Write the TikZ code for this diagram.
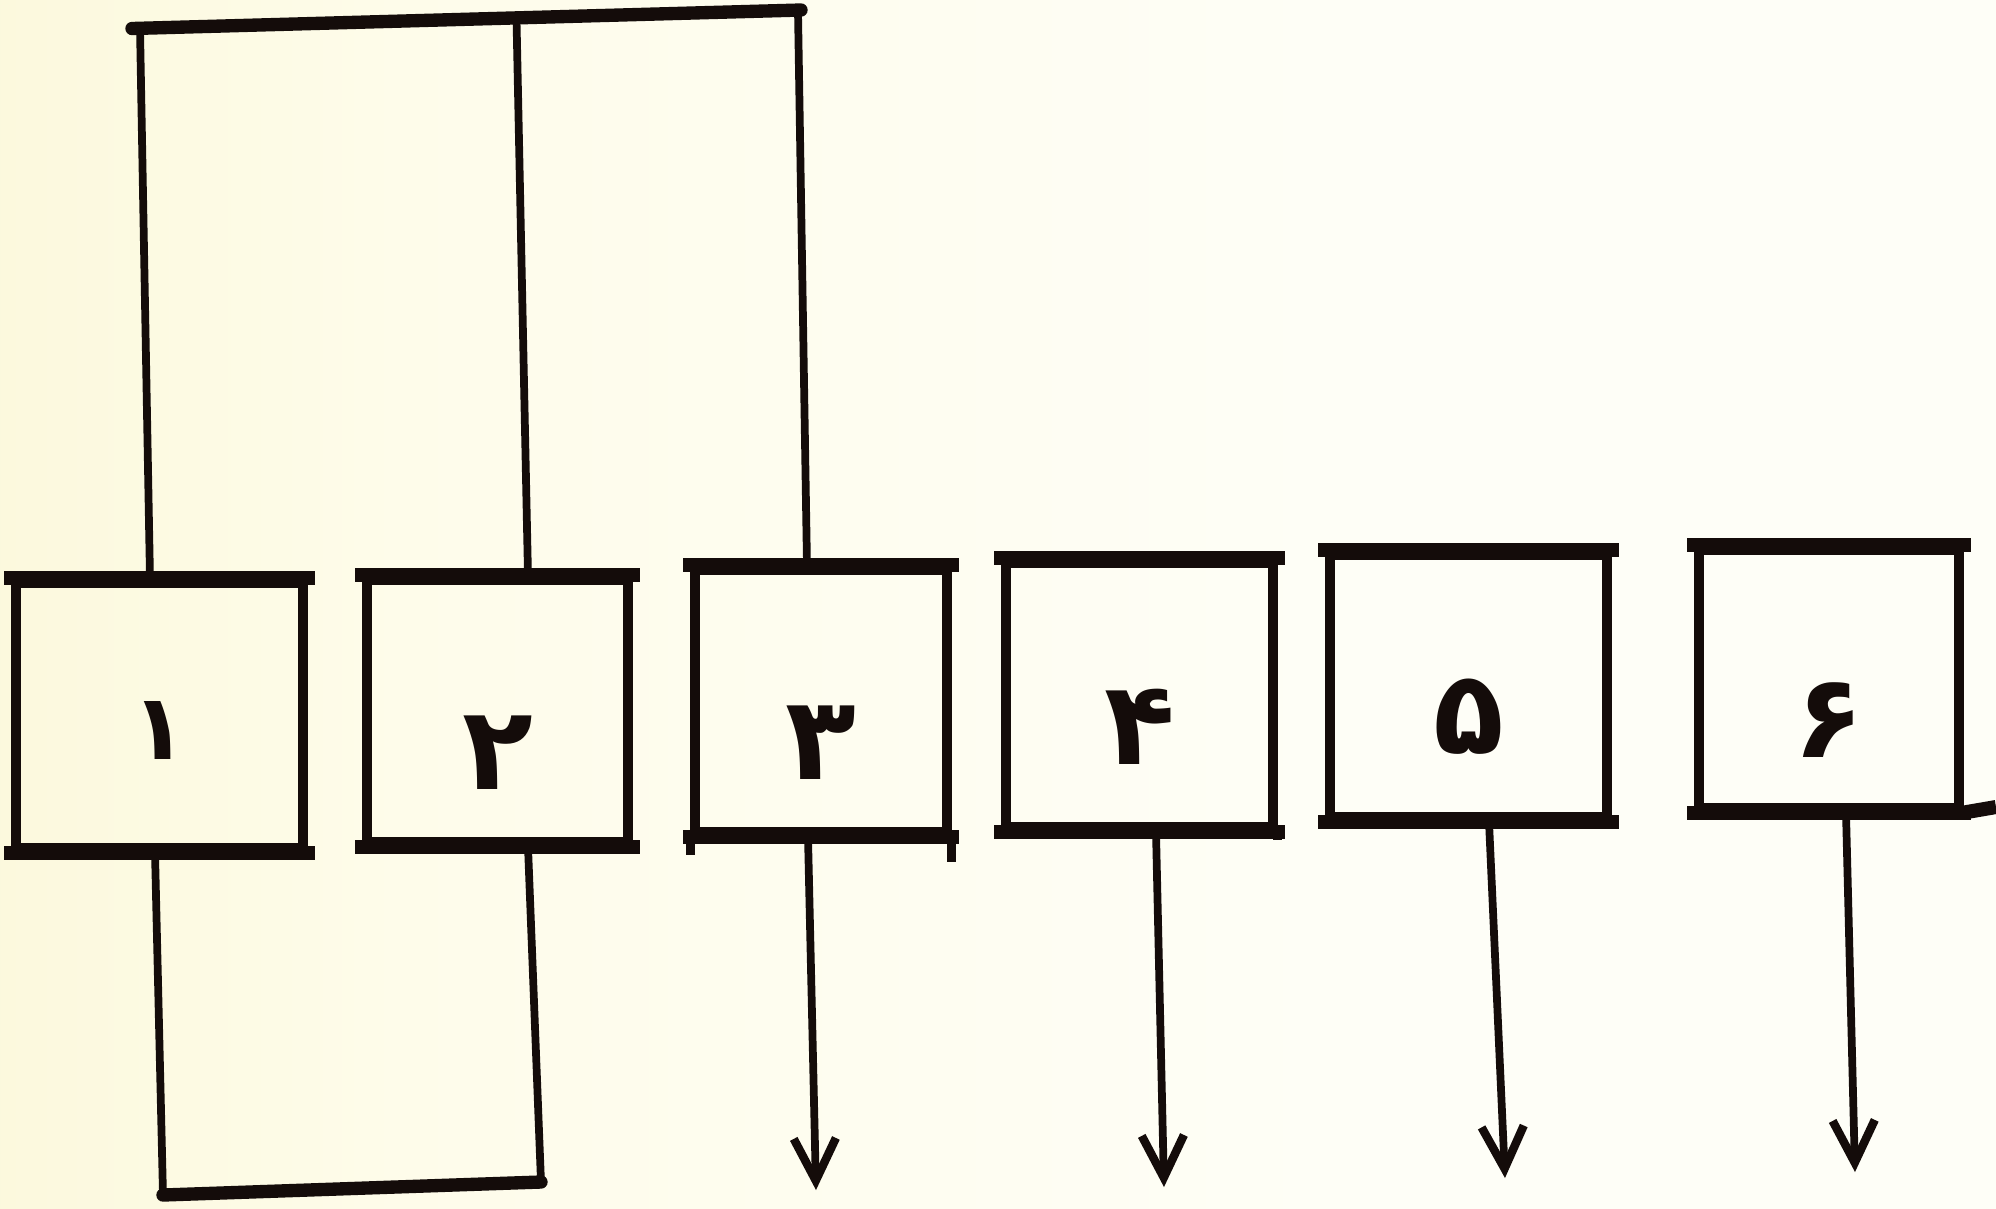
\documentclass[tikz,border=0pt]{standalone}
\usepackage{fontspec}
\newfontfamily\fa[Script=Arabic]{DejaVu Sans}
\usetikzlibrary{calc,arrows.meta}
\definecolor{bgl}{RGB}{249,245,208}
\definecolor{bgm}{RGB}{254,252,234}
\definecolor{bgr}{RGB}{254,254,247}
\definecolor{ink}{RGB}{20,12,10}
\pgfdeclarehorizontalshading{paper}{100bp}{color(0bp)=(bgl); color(15bp)=(bgl); color(35bp)=(bgm); color(60bp)=(bgr); color(100bp)=(bgr)}
\begin{document}
\begin{tikzpicture}[
  box/.style={draw=ink, line width=2.6pt, inner sep=0pt},
  digit/.style={text=ink, inner sep=0pt, font=\fa\bfseries\fontsize{33pt}{33pt}\selectfont},
  edge/.style={draw=ink, line width=4pt, line cap=rect},
  conn/.style={draw=ink, line width=2.2pt},
  bar/.style={draw=ink, line width=3.8pt, line cap=round},
  arr/.style={draw=ink, line width=2.2pt, -{Straight Barb[length=12pt,width=12pt,line width=2.4pt]}}
]
\useasboundingbox (0,0) rectangle (19.96,-12.08);
\shade[shading=paper] (0,0) rectangle (19.96,-12.08);

% boxes with their digits
\node[box, minimum width=2.87cm, minimum height=2.65cm,
  label={[digit, yshift=-0.15cm, font=\fa\bfseries\fontsize{26pt}{26pt}\selectfont]center:۱}] (b1) at (1.595,-7.155) {};
\node[box, minimum width=2.61cm, minimum height=2.62cm,
  label={[digit, yshift=-0.42cm]center:۲}] (b2) at (4.975,-7.11) {};
\node[box, minimum width=2.52cm, minimum height=2.62cm,
  label={[digit, yshift=-0.42cm]center:۳}] (b3) at (8.21,-7.01) {};
\node[box, minimum width=2.67cm, minimum height=2.64cm,
  label={[digit, yshift=-0.32cm]center:۴}] (b4) at (11.395,-6.95) {};
\node[box, minimum width=2.77cm, minimum height=2.62cm,
  label={[digit, yshift=-0.31cm]center:۵}] (b5) at (14.685,-6.86) {};
\node[box, minimum width=2.60cm, minimum height=2.58cm,
  label={[digit, yshift=-0.41cm]center:۶}] (b6) at (18.29,-6.79) {};

% thick top and bottom edges
\foreach \b in {b1,b2,b3,b4,b5,b6}{
  \draw[edge] (\b.north west) -- (\b.north east);
  \draw[edge] (\b.south west) -- (\b.south east);
}
% small overshoots of the hand drawing
\draw[conn, line width=2.6pt] (b3.south west) -- ++(0,-0.18);
\draw[conn, line width=2.6pt] (b3.south east) -- ++(0,-0.25);
\draw[conn, line width=2.6pt] (b4.south east) -- ++(0,-0.08);
\coordinate (rim) at (19.96,-8.07);
\draw[edge, line cap=butt] (b6.south east) -- (rim);

% top bar and its three drops
\coordinate (tl) at (1.32,-0.285);
\coordinate (tr) at (8.01,-0.10);
\draw[bar] (tl) -- (tr);
\coordinate (tA) at (1.40,-0.28);
\coordinate (tB) at (5.165,-0.19);
\coordinate (tC) at (7.98,-0.11);
\draw[conn] (tA) -- ($(b1.north)+(-0.095,0)$);
\draw[conn] (tB) -- ($(b2.north)+(0.305,0)$);
\draw[conn] (tC) -- ($(b3.north)+(-0.14,0)$);

% bottom loop between boxes 1 and 2
\coordinate (u1) at (1.63,-11.95);
\coordinate (u2) at (5.41,-11.82);
\draw[conn] ($(b1.south)+(-0.045,0)$) -- (u1);
\draw[conn] ($(b2.south)+(0.305,0)$) -- (u2);
\draw[bar] (u1) -- (u2);

% output arrows
\coordinate (a3) at (8.16,-11.90);
\coordinate (a4) at (11.64,-11.87);
\coordinate (a5) at (15.05,-11.78);
\coordinate (a6) at (18.55,-11.72);
\draw[arr] ($(b3.south)+(-0.13,0)$) -- (a3);
\draw[arr] ($(b4.south)+(0.165,0)$) -- (a4);
\draw[arr] ($(b5.south)+(0.205,0)$) -- (a5);
\draw[arr] ($(b6.south)+(0.17,0)$) -- (a6);
\end{tikzpicture}
\end{document}
